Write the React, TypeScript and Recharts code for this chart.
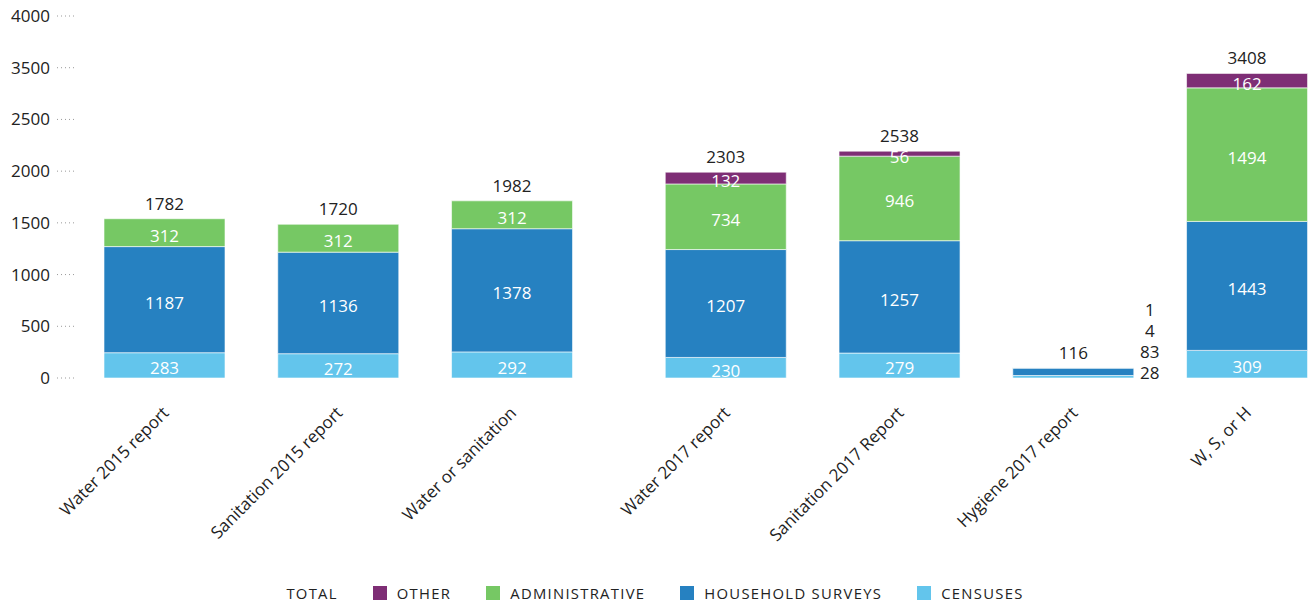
import { BarChart, Bar, XAxis, YAxis, LabelList, Legend } from 'recharts';

const categories = [
  'Water 2015 report',
  'Sanitation 2015 report',
  'Water or sanitation',
  'Water 2017 report',
  'Sanitation 2017 Report',
  'Hygiene 2017 report',
  'W, S, or H',
];
const censuses = [283, 272, 292, 230, 279, 28, 309];
const householdSurveys = [1187, 1136, 1378, 1207, 1257, 83, 1443];
const administrative = [312, 312, 312, 734, 946, 4, 1494];
const other = [0, 0, 0, 132, 56, 1, 162];
const yTickLabels = ['0', '500', '1000', '1500', '2000', '2500', '3500', '4000'];

const seriesKeys = ['censuses', 'household', 'administrative', 'other'];
const seriesNames = ['CENSUSES', 'HOUSEHOLD SURVEYS', 'ADMINISTRATIVE', 'OTHER'];
const seriesColors = ['#63C5EC', '#2681C1', '#76C864', '#7E2E75'];

// layout
const W = 1310;
const H = 606;
const TOP = 16;
const LEGEND_H = 32;
const X_AXIS_H = 196;
const PLOT_BOTTOM = H - LEGEND_H - X_AXIS_H;
const GROUP_GAP = 0.23; // extra space between 2015 and 2017 groups
const FONT = '"Open Sans", sans-serif';

const data = categories.map((name, i) => ({
  name,
  pos: i + (i >= 3 ? GROUP_GAP : 0),
  censuses: censuses[i],
  household: householdSurveys[i],
  administrative: administrative[i],
  other: other[i],
  total: censuses[i] + householdSurveys[i] + administrative[i] + other[i],
}));

// axis labels are evenly spaced over the value range
const yMax = 4050;
const yTicks = yTickLabels.map((_, i) => (i * yMax) / (yTickLabels.length - 1));

function YTick(props: any) {
  const { x, y, index } = props;
  return (
    <g>
      <text x={x - 28} y={y} dy="0.35em" textAnchor="end" fill="#222" fontSize={17} fontFamily={FONT}>
        {yTickLabels[index]}
      </text>
      <line x1={x - 21} x2={x - 4} y1={y} y2={y} stroke="#999" strokeWidth={1} strokeDasharray="1 3" />
    </g>
  );
}

function XTick(props: any) {
  const { x, y, index } = props;
  const tx = x + 5;
  const ty = y + 36;
  return (
    <text x={tx} y={ty} textAnchor="end" fill="#222" fontSize={17} fontFamily={FONT} transform={`rotate(-45 ${tx} ${ty})`}>
      {categories[index]}
    </text>
  );
}

const segmentLabel = (order: number) => (props: any) => {
  const { x, y, width, height, value } = props;
  const row: any = data.find((d) => d.name === value);
  if (!row) return null;
  const v = row[seriesKeys[order]];
  if (!v) return null;
  const isTop = seriesKeys.slice(order + 1).every((k) => !row[k]);
  const cx = x + width / 2;
  const small = row.total < 300;
  return (
    <g>
      {small ? (
        <text x={x + width + 16} y={PLOT_BOTTOM - 5 - order * 21} dy="0.35em" textAnchor="middle" fill="#222" fontSize={17} fontFamily={FONT}>
          {v}
        </text>
      ) : (
        <text x={cx} y={y + height / 2 + 3} dy="0.35em" textAnchor="middle" fill="#fff" fontSize={17} fontFamily={FONT}>
          {v}
        </text>
      )}
      {isTop && (
        <text x={cx} y={y - 15} dy="0.35em" textAnchor="middle" fill="#222" fontSize={17} fontFamily={FONT}>
          {row.total}
        </text>
      )}
    </g>
  );
};

function LegendContent() {
  const items = [{ name: 'TOTAL', color: '' }].concat(
    seriesNames.map((n, i) => ({ name: n, color: seriesColors[i] })).reverse()
  );
  return (
    <div
      style={{
        height: LEGEND_H,
        paddingTop: 6,
        boxSizing: 'border-box',
        display: 'flex',
        justifyContent: 'center',
        alignItems: 'center',
        gap: 35,
        fontFamily: FONT,
        fontSize: 14.8,
        letterSpacing: 1.3,
        color: '#222',
      }}
    >
      {items.map((it) => (
        <div key={it.name} style={{ display: 'flex', alignItems: 'center' }}>
          {it.color && <span style={{ width: 14, height: 14, background: it.color, marginRight: 10, display: 'inline-block' }} />}
          <span>{it.name}</span>
        </div>
      ))}
    </div>
  );
}

export default function App() {
  return (
    <div style={{ position: 'absolute', left: 0, top: 0, width: W, height: H, background: '#fff' }}>
      <BarChart width={W} height={H} data={data} margin={{ top: TOP, right: 0, bottom: 0, left: 0 }}>
        <XAxis
          type="number"
          dataKey="pos"
          domain={[-0.5, 6.59]}
          ticks={data.map((d) => d.pos)}
          interval={0}
          height={X_AXIS_H}
          axisLine={false}
          tickLine={false}
          tickSize={0}
          tickMargin={0}
          tick={<XTick />}
        />
        <YAxis
          type="number"
          domain={[0, yMax]}
          ticks={yTicks}
          interval={0}
          width={78}
          axisLine={false}
          tickLine={false}
          tickSize={0}
          tickMargin={0}
          tick={<YTick />}
        />
        <Legend verticalAlign="bottom" height={LEGEND_H} content={<LegendContent />} />
        {seriesKeys.map((k, i) => (
          <Bar
            key={k}
            dataKey={k}
            stackId="a"
            fill={seriesColors[i]}
            stroke="#ffffff"
            strokeWidth={0.6}
            barSize={121}
            isAnimationActive={false}
          >
            <LabelList dataKey="name" content={segmentLabel(i)} />
          </Bar>
        ))}
      </BarChart>
    </div>
  );
}
